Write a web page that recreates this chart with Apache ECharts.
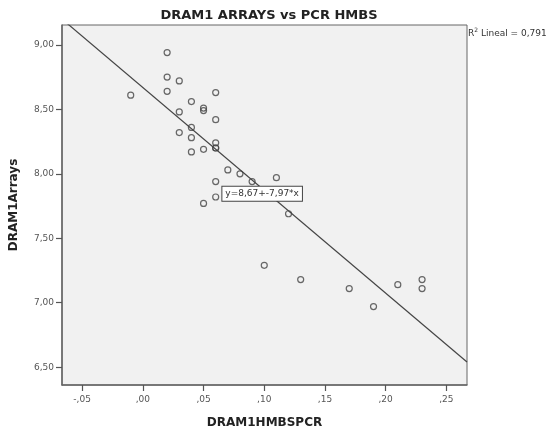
<!DOCTYPE html>
<html>
<head>
<meta charset="utf-8">
<script src="https://cdn.jsdelivr.net/npm/echarts@6/dist/echarts.min.js"></script>
<style>
  html, body { margin: 0; padding: 0; background: #fff; }
  #chart { width: 552px; height: 434px; }
</style>
</head>
<body>
<div id="chart"></div>
<script>
// DRAM1HMBSPCR (x) vs DRAM1Arrays (y)
var hmbsPcr = [0.02, 0.02, 0.03, 0.02, -0.01, 0.06, 0.04, 0.05, 0.05, 0.03, 0.06, 0.04,
               0.03, 0.04, 0.06, 0.06, 0.06, 0.05, 0.04, 0.07, 0.08, 0.09, 0.11, 0.06,
               0.06, 0.05, 0.12, 0.10, 0.13, 0.17, 0.19, 0.21, 0.23, 0.23];
var arrays = [8.94, 8.75, 8.72, 8.64, 8.61, 8.63, 8.56, 8.51, 8.49, 8.48, 8.42, 8.36,
              8.32, 8.28, 8.24, 8.20, 8.20, 8.19, 8.17, 8.03, 8.00, 7.94, 7.97, 7.94,
              7.82, 7.77, 7.69, 7.29, 7.18, 7.11, 6.97, 7.14, 7.18, 7.11];
// fit line y = 8,67 + -7,97*x, drawn between the axis limits
var fitX = [-0.0666, 0.267];
var fitY = [9.20, 6.54];
var xTicks = [-0.05, 0, 0.05, 0.10, 0.15, 0.20, 0.25];
var yTicks = [6.5, 7.0, 7.5, 8.0, 8.5, 9.0];
var eqLabel = 'y=8,67+-7,97*x';
var eqPos = [0.0655, 7.846];
var r2Text = '0,791';

var points = [];
for (var i = 0; i < hmbsPcr.length; i++) {
    points.push([hmbsPcr[i], arrays[i]]);
}
var fitLine = [[fitX[0], fitY[0]], [fitX[1], fitY[1]]];

function fmtX(v) {
    var s = Math.abs(v).toFixed(2).replace('.', ',').replace(/^0/, '');
    return (v < 0 ? '-' : '') + s;
}
function fmtY(v) {
    return v.toFixed(2).replace('.', ',');
}

var font = '"DejaVu Sans", sans-serif';
var chart = echarts.init(document.getElementById('chart'));
var option = {
    backgroundColor: '#fff',
    animation: false,
    title: {
        text: 'DRAM1 ARRAYS vs PCR HMBS',
        left: 264,
        textAlign: 'center',
        top: 4,
        textStyle: { fontFamily: font, fontSize: 13, fontWeight: 'bold', color: '#222' }
    },
    graphic: [{
        type: 'text',
        left: 468,
        top: 27,
        style: {
            text: '{b|R}{s|2}{b| Lineal = ' + r2Text + '}',
            rich: {
                b: { fontFamily: font, fontSize: 9, fill: '#333', verticalAlign: 'bottom' },
                s: { fontFamily: font, fontSize: 6, fill: '#333', verticalAlign: 'top', padding: [0, 0, 5, 0] }
            }
        }
    }],
    grid: {
        left: 58,
        top: 25,
        right: 85,
        bottom: 46,
        show: true,
        backgroundColor: '#f1f1f1',
        borderColor: '#666',
        borderWidth: 1
    },
    xAxis: {
        type: 'value',
        min: -0.0666,
        max: 0.267,
        name: 'DRAM1HMBSPCR',
        nameLocation: 'middle',
        nameGap: 32,
        nameTextStyle: { fontFamily: font, fontSize: 12, fontWeight: 'bold', color: '#222' },
        splitLine: { show: false },
        axisLine: { onZero: false, lineStyle: { color: '#666', width: 1.5 } },
        axisTick: { show: true, length: 6, customValues: xTicks, lineStyle: { color: '#555', width: 1.2 } },
        axisLabel: {
            customValues: xTicks,
            formatter: fmtX,
            fontFamily: font, fontSize: 9, color: '#555', margin: 10
        }
    },
    yAxis: {
        type: 'value',
        min: 6.362,
        max: 9.154,
        name: 'DRAM1Arrays',
        nameLocation: 'middle',
        nameGap: 42,
        nameTextStyle: { fontFamily: font, fontSize: 12, fontWeight: 'bold', color: '#222' },
        splitLine: { show: false },
        axisLine: { show: true, onZero: false, lineStyle: { color: '#666', width: 1.5 } },
        axisTick: { show: true, length: 6, customValues: yTicks, lineStyle: { color: '#555', width: 1.2 } },
        axisLabel: {
            customValues: yTicks,
            formatter: fmtY,
            fontFamily: font, fontSize: 9, color: '#555', margin: 8
        }
    },
    series: [{
        type: 'line',
        data: fitLine,
        symbol: 'none',
        clip: true,
        lineStyle: { color: '#444', width: 1.2 },
        silent: true,
        z: 2
    }, {
        type: 'scatter',
        data: points,
        symbol: 'circle',
        symbolSize: 6,
        itemStyle: { color: 'rgba(0,0,0,0)', borderColor: '#444', borderWidth: 1.2 },
        z: 3,
        markPoint: {
            symbol: 'rect',
            symbolSize: 0,
            data: [{ coord: eqPos }],
            label: {
                show: true,
                position: 'right',
                distance: 0,
                formatter: eqLabel,
                fontFamily: font,
                fontSize: 9,
                color: '#333',
                backgroundColor: '#fff',
                borderColor: '#444',
                borderWidth: 1,
                padding: [3, 3, 2, 3]
            }
        }
    }]
};
chart.setOption(option);
</script>
</body>
</html>
